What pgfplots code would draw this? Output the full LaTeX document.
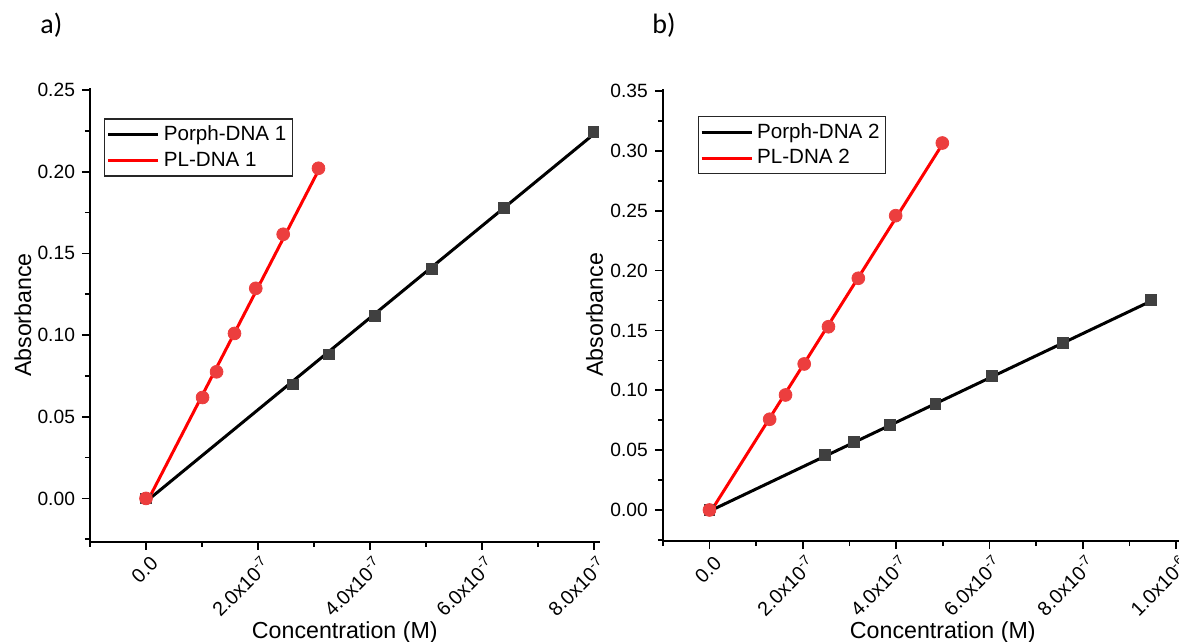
\documentclass[border=0pt]{standalone}
\usepackage{fontspec}
\setmainfont{Liberation Sans}
\newfontfamily\panelfont{Carlito}
\usepackage{pgfplots}
\pgfplotsset{compat=1.18}

\definecolor{markred}{RGB}{236,62,62}
\definecolor{markgray}{RGB}{64,64,64}

\pgfplotsset{
  conc/.style={
    scale only axis,
    axis x line*=bottom, axis y line*=left,
    axis line style={line width=1pt, -},
    tick align=outside,
    major tick length=4pt, minor tick length=2.5pt,
    every tick/.style={black, line width=0.8pt},
    tick label style={font=\fontsize{9.6}{11}\selectfont},
    /pgf/number format/assume math mode=true,
    yticklabel style={/pgf/number format/.cd, fixed, fixed zerofill, precision=2},
    xticklabel style={xshift=5pt, yshift=-4.5pt, rotate=45, anchor=east, inner sep=1pt,
      font=\fontsize{9.9}{11}\selectfont},
    label style={font=\fontsize{11.6}{13}\selectfont},
    scaled x ticks=false,
    clip=false,
    legend cell align=left,
    legend style={draw=black!85, line width=0.6pt, anchor=north west,
      font=\fontsize{10.3}{12}\selectfont, inner xsep=1pt, inner ysep=1.5pt,
      row sep=0pt, nodes={inner xsep=2pt}},
    legend image code/.code={\draw[#1] (0pt,0pt) -- (25pt,0pt);},
  },
  fitline/.style={line width=1.5pt, no marks},
  porphpts/.style={only marks, mark=square*, mark size=2.7pt, color=markgray},
  plpts/.style={only marks, mark=*, mark size=3.2pt, color=markred},
}

\begin{document}
\begin{tikzpicture}

% ---------------- panel a ----------------
\begin{axis}[conc,
  at={(45pt,50.15pt)}, anchor=south west,
  width=254.8pt, height=226.65pt,
  xmin=-1e-7, xmax=8.1e-7, ymin=-0.0265, ymax=0.251,
  xtick={0,2e-7,4e-7,6e-7,8e-7},
  xticklabels={0.0, 2.0x10\textsuperscript{-7}, 4.0x10\textsuperscript{-7}, 6.0x10\textsuperscript{-7}, 8.0x10\textsuperscript{-7}},
  minor xtick={-1e-7,1e-7,3e-7,5e-7,7e-7},
  ytick={0,0.05,0.10,0.15,0.20,0.25},
  minor ytick={-0.025,0.025,0.075,0.125,0.175,0.225},
  xlabel={Concentration (M)}, ylabel={Absorbance},
  xlabel style={at={(axis description cs:0.5,0)}, anchor=base, yshift=-48.6pt},
  ylabel style={at={(axis description cs:-0.1157,0.5)}, anchor=base},
  legend style={at={(axis description cs:0.028,0.934)}},
]
\addplot[porphpts, forget plot] coordinates {
  (0,0) (2.62e-7,0.0698) (3.27e-7,0.0881) (4.09e-7,0.1119)
  (5.11e-7,0.1406) (6.39e-7,0.1776) (7.99e-7,0.2245)};
\addplot[plpts, forget plot] coordinates {
  (0,0) (1.01e-7,0.0618) (1.26e-7,0.0775) (1.58e-7,0.1010)
  (1.96e-7,0.1286) (2.45e-7,0.1617) (3.08e-7,0.2021)};
\addplot[fitline, black] coordinates {(0,-0.002) (7.99e-7,0.2228)};
\addlegendentry{Porph-DNA 1}
\addplot[fitline, red] coordinates {(0,-0.0035) (3.08e-7,0.2008)};
\addlegendentry{PL-DNA 1}
\end{axis}

% ---------------- panel b ----------------
\begin{axis}[conc,
  at={(331.4pt,50.45pt)}, anchor=south west,
  width=280pt, height=226.2pt,
  xmin=-1e-7, xmax=1.1e-6, ymin=-0.026, ymax=0.352,
  xtick={0,2e-7,4e-7,6e-7,8e-7,1e-6},
  xticklabels={0.0, 2.0x10\textsuperscript{-7}, 4.0x10\textsuperscript{-7}, 6.0x10\textsuperscript{-7}, 8.0x10\textsuperscript{-7}, 1.0x10\textsuperscript{-6}},
  minor xtick={-1e-7,1e-7,3e-7,5e-7,7e-7,9e-7},
  ytick={0,0.05,0.10,0.15,0.20,0.25,0.30,0.35},
  minor ytick={-0.025,0.025,0.075,0.125,0.175,0.225,0.275,0.325},
  xlabel={Concentration (M)}, ylabel={Absorbance},
  xlabel style={at={(axis description cs:0.5,0)}, anchor=base, yshift=-48.6pt},
  ylabel style={at={(axis description cs:-0.1068,0.5)}, anchor=base},
  legend style={at={(axis description cs:0.062,0.940)}},
]
\addplot[porphpts, forget plot] coordinates {
  (0,0) (2.47e-7,0.0458) (3.09e-7,0.0568) (3.87e-7,0.0713)
  (4.84e-7,0.0887) (6.05e-7,0.1122) (7.57e-7,0.1398) (9.46e-7,0.1754)};
\addplot[plpts, forget plot] coordinates {
  (0,0) (1.29e-7,0.0758) (1.63e-7,0.0961) (2.03e-7,0.1220)
  (2.55e-7,0.1531) (3.19e-7,0.1936) (3.99e-7,0.2459) (4.99e-7,0.3066)};
\addplot[fitline, black] coordinates {(0,-0.001) (9.46e-7,0.1745)};
\addlegendentry{Porph-DNA 2}
\addplot[fitline, red] coordinates {(0,-0.003) (4.99e-7,0.3055)};
\addlegendentry{PL-DNA 2}
\end{axis}

% panel letters
\node[anchor=base west, inner sep=0pt, font=\panelfont\fontsize{14}{16}\selectfont] at (20pt,304pt) {a)};
\node[anchor=base west, inner sep=0pt, font=\panelfont\fontsize{14}{16}\selectfont] at (326pt,304pt) {b)};

\pgfresetboundingbox
\path[use as bounding box] (0,0) rectangle (589.5pt,321pt);
\end{tikzpicture}
\end{document}
